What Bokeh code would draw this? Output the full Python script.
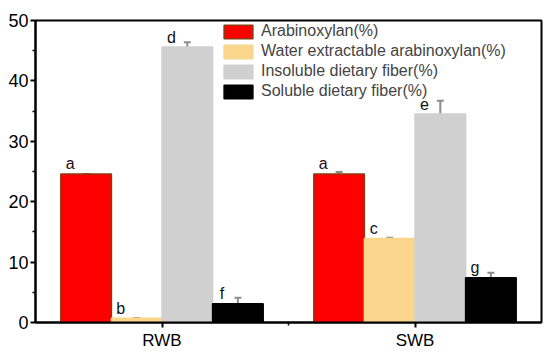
from bokeh.plotting import figure
from bokeh.models import ColumnDataSource, FixedTicker, Whisker, TeeHead, Legend, LegendItem, Range1d
from bokeh.transform import dodge
from bokeh.core.properties import value
from bokeh.embed import file_html
from bokeh.resources import INLINE

groups = ["RWB", "SWB"]
group_pos = [1, 2]
series = ["Arabinoxylan(%)", "Water extractable arabinoxylan(%)",
          "Insoluble dietary fiber(%)", "Soluble dietary fiber(%)"]
arabinoxylan = [24.6, 24.6]
arabinoxylan_err = [0.0, 0.3]
weax = [0.7, 13.9]
weax_err = [0.0, 0.15]
idf = [45.6, 34.5]
idf_err = [0.8, 2.2]
sdf = [3.1, 7.4]
sdf_err = [1.0, 0.85]
letters_ax = ["a", "a"]
letters_weax = ["b", "c"]
letters_idf = ["d", "e"]
letters_sdf = ["f", "g"]

vals = [arabinoxylan, weax, idf, sdf]
errs = [arabinoxylan_err, weax_err, idf_err, sdf_err]
letters = [letters_ax, letters_weax, letters_idf, letters_sdf]
fills = ["#FF0000", "#F9D68C", "#D0D0D0", "#000000"]
lines = ["#8A3A10", "#F9D68C", "#D0D0D0", "#000000"]
offsets = [-0.3, -0.1, 0.1, 0.3]

FONT = "Liberation Sans"

p = figure(width=550, height=352, output_backend="svg", toolbar_location=None,
           x_range=Range1d(0.5, 2.5), y_range=Range1d(0, 50),
           min_border_left=35, min_border_right=9, min_border_top=20, min_border_bottom=29)
p.xgrid.visible = False
p.ygrid.visible = False
p.outline_line_color = "black"
p.outline_line_width = 2
p.background_fill_color = "white"

items = []
for i in range(4):
    src = ColumnDataSource(dict(
        x=group_pos, top=vals[i],
        upper=[v + e for v, e in zip(vals[i], errs[i])],
        lower=[v - e for v, e in zip(vals[i], errs[i])],
        lab=letters[i]))
    r = p.vbar(x=dodge("x", offsets[i], range=p.x_range), top="top", width=0.2, source=src,
               fill_color=fills[i], line_color=lines[i], line_width=1.5)
    items.append(LegendItem(label=series[i], renderers=[r]))
    w = Whisker(source=src, base=dodge("x", offsets[i], range=p.x_range),
                upper="upper", lower="lower", line_color="#8c8c8c", line_width=2,
                upper_head=TeeHead(size=7, line_color="#8c8c8c", line_width=2),
                lower_head=TeeHead(size=7, line_color="#8c8c8c", line_width=2))
    p.add_layout(w)
    p.text(x=dodge("x", offsets[i] - 0.063, range=p.x_range), y="top", text="lab", source=src,
           text_align="center", text_baseline="alphabetic", y_offset=-10,
           text_font=value(FONT), text_font_size="16px",
           text_color="#2a0a18" if i == 0 else "#111111")

legend = Legend(items=items, location=(185, 222), glyph_width=36, glyph_height=17,
                label_height=17, spacing=2, padding=0, margin=0, label_standoff=5,
                label_text_font=FONT, label_text_font_size="16px",
                background_fill_alpha=0, border_line_alpha=0)
p.add_layout(legend, "center")

p.xaxis.ticker = FixedTicker(ticks=group_pos, minor_ticks=[1.5])
p.xaxis.major_label_overrides = {1: "RWB", 2: "SWB"}
p.yaxis.ticker = FixedTicker(ticks=[0, 10, 20, 30, 40, 50], minor_ticks=[5, 15, 25, 35, 45])
for ax in (p.xaxis[0], p.yaxis[0]):
    ax.axis_line_width = 2
    ax.axis_line_color = "black"
    ax.major_tick_line_width = 2
    ax.minor_tick_line_width = 1.5
    ax.major_tick_out = 5
    ax.major_tick_in = 0
    ax.minor_tick_out = 3
    ax.minor_tick_in = 0
    ax.major_label_text_font = FONT
    ax.major_label_text_color = "black"
p.yaxis.major_label_text_font_size = "18px"
p.yaxis.major_label_standoff = 2
p.xaxis.major_label_text_font_size = "17px"
p.xaxis.major_label_standoff = 3

open("out.html", "w").write(file_html(p, INLINE))
